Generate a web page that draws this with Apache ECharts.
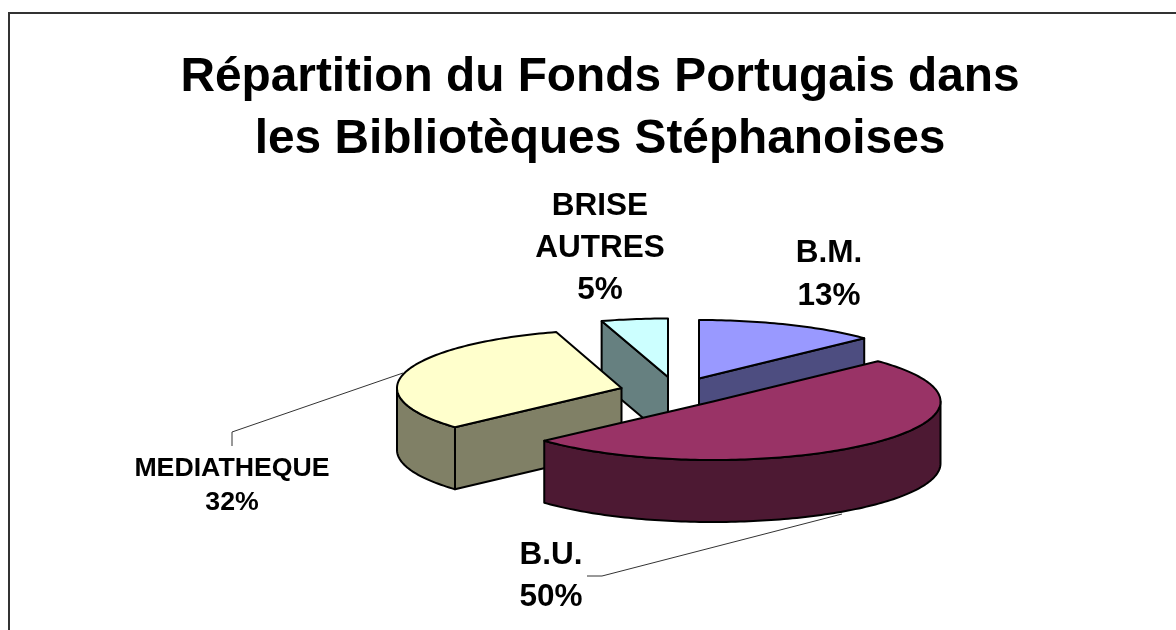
<!DOCTYPE html>
<html>
<head>
<meta charset="utf-8">
<style>html,body{margin:0;padding:0;background:#fff}#c{width:1176px;height:630px}</style>
<script src="https://cdn.jsdelivr.net/npm/echarts@6/dist/echarts.min.js"></script>
</head>
<body>
<div id="c"></div>
<script>
const categories = ['B.M.', 'B.U.', 'MEDIATHEQUE', 'BRISE\nAUTRES'];
const values = [12.9, 50.4, 32.0, 4.7];
const titleText = 'Répartition du Fonds Portugais dans\nles Bibliotèques Stéphanoises';

const topColors = ['#9999FF', '#993366', '#FFFFCC', '#CCFFFF'];
const sideColors = ['#4D4D80', '#4D1933', '#808066', '#668080'];
const centers = [[699, 378.5], [713, 401.5], [621.5, 388], [668, 377]];
const radiiX = [228, 227.5, 224.5, 228];
const paintOrder = [2, 4, 3, 1];
const labelAnchors = [[829, 253, 31.5, 43], [551, 555, 31.5, 42], [232, 469, 26.7, 34], [600, 206, 31.5, 42]];
const RY = 58.5, DEPTH = 62;

const total = values.reduce((a, b) => a + b, 0);
const starts = [];
values.reduce((acc, v, i) => { starts[i] = acc; return acc + v; }, 0);
const toAngle = v => echarts.number.linearMap(v, [0, total], [0, Math.PI * 2], true);

function rim(c, rx, t, d) { return [c[0] + rx * Math.sin(t), c[1] - RY * Math.cos(t) + (d || 0)]; }
function arc(c, rx, a, b, d) {
  const n = Math.max(2, Math.ceil(Math.abs(b - a) / 0.02)), pts = [];
  for (let i = 0; i <= n; i++) pts.push(rim(c, rx, a + (b - a) * i / n, d));
  return pts;
}
function poly(points, fill, z2) {
  return { type: 'polygon', z2, shape: { points },
    style: { fill, stroke: '#000', lineWidth: 2, lineJoin: 'round' } };
}
function renderItem(params, api) {
  const i = params.dataIndex;
  const a = toAngle(starts[i]), b = toAngle(starts[i] + api.value(0));
  const c = centers[i], rx = radiiX[i], z = paintOrder[i] * 10, kids = [];
  const side = sideColors[i];
  const down = p => [p[0], p[1] + DEPTH];
  if (Math.sin(a) < -1e-6) {
    const e = rim(c, rx, a);
    kids.push(poly([c, e, down(e), down(c)], side, z));
  }
  if (Math.sin(b) > 1e-6) {
    const e = rim(c, rx, b);
    kids.push(poly([c, e, down(e), down(c)], side, z));
  }
  const w0 = Math.max(a, Math.PI / 2), w1 = Math.min(b, Math.PI * 1.5);
  if (w1 > w0) {
    kids.push(poly(arc(c, rx, w0, w1).concat(arc(c, rx, w1, w0, DEPTH)), side, z + 1));
  }
  kids.push(poly([c].concat(arc(c, rx, a, b)), topColors[i], z + 2));
  return { type: 'group', children: kids };
}

const labelGraphics = categories.map((name, i) => {
  const lines = name.split('\n').concat(Math.round(values[i]) + '%');
  const [x, y, size, lh] = labelAnchors[i];
  return lines.map((t, k) => ({
    type: 'text', x, y: y + k * lh, z: 5,
    style: { text: t, fill: '#000', font: 'bold ' + size + 'px "Liberation Sans", Arial, sans-serif',
      align: 'center', verticalAlign: 'middle' }
  }));
}).flat();

const line = (points, stroke, lineWidth) => ({ type: 'polyline', z: 1, shape: { points },
  style: { stroke, lineWidth, fill: null } });

const chart = echarts.init(document.getElementById('c'), null, { renderer: 'canvas' });
chart.setOption({
  animation: false,
  backgroundColor: '#fff',
  title: {
    text: titleText, left: 600, top: 47, padding: 0, textAlign: 'center',
    textStyle: { color: '#000', fontFamily: '"Liberation Sans", Arial, sans-serif',
      fontWeight: 'bold', fontSize: 47.8, lineHeight: 62 }
  },
  graphic: { elements: [
    line([[9, 630], [9, 13], [1176, 13]], '#333', 2),
    line([[403, 373], [232, 432], [232, 446]], '#333', 1),
    line([[587, 576], [602, 576], [842, 514]], '#333', 1)
  ].concat(labelGraphics) },
  series: [{
    type: 'custom', coordinateSystem: 'none', z: 2, silent: true,
    renderItem,
    data: values.map((v, i) => ({ name: categories[i], value: [v] }))
  }]
});
</script>
</body>
</html>
